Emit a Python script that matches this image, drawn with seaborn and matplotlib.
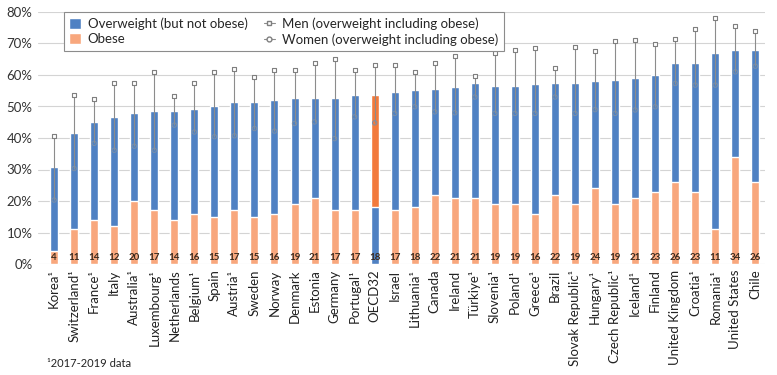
# Overweight and obesity by country, stacked bars with men/women markers
import numpy as np
import pandas as pd
import seaborn as sns
import matplotlib.pyplot as plt
from matplotlib.patches import Patch
from matplotlib.lines import Line2D

# Data (percent of adult population)
countries = ["Korea¹", "Switzerland¹", "France¹", "Italy", "Australia¹", "Luxembourg¹",
             "Netherlands", "Belgium¹", "Spain", "Austria¹", "Sweden", "Norway", "Denmark",
             "Estonia", "Germany", "Portugal¹", "OECD32", "Israel", "Lithuania¹", "Canada",
             "Ireland", "Türkiye¹", "Slovenia¹", "Poland¹", "Greece¹", "Brazil",
             "Slovak Republic¹", "Hungary¹", "Czech Republic¹", "Iceland¹", "Finland",
             "United Kingdom", "Croatia¹", "Romania¹", "United States", "Chile"]
obese = [4, 11, 14, 12, 20, 17, 14, 16, 15, 17, 15, 16, 19, 21, 17, 17, 18, 17, 18, 22,
         21, 21, 19, 19, 16, 22, 19, 24, 19, 21, 23, 26, 23, 11, 34, 26]
total = [30.7, 41.7, 45.0, 46.7, 48.0, 48.6, 48.6, 49.1, 50.0, 51.3, 51.3, 52.1, 52.6,
         52.6, 52.6, 53.6, 53.6, 54.5, 55.3, 55.5, 56.3, 57.6, 56.6, 56.6, 57.1, 57.6,
         57.6, 58.1, 58.4, 58.9, 60.0, 63.7, 63.7, 66.9, 67.9, 67.9]
men = [40.6, 53.5, 52.5, 57.6, 57.6, 60.8, 53.2, 57.6, 60.8, 62.0, 59.4, 61.6, 61.6,
       63.9, 65.2, 61.6, 63.2, 63.2, 60.8, 63.7, 65.9, 59.6, 67.1, 67.8, 68.7, 62.3,
       69.0, 67.7, 70.9, 71.2, 69.9, 71.3, 74.6, 78.0, 75.6, 73.9]
women = [20.3, 30.3, 38.3, 36.1, 37.4, 36.1, 44.1, 41.9, 40.4, 40.7, 43.0, 42.2, 44.6,
         45.1, 39.8, 46.7, 44.8, 47.8, 49.9, 48.3, 48.0, 53.0, 47.8, 47.8, 47.8, 53.0,
         47.8, 49.0, 47.8, 48.9, 49.9, 57.3, 56.8, 56.8, 61.0, 62.8]

# Colours (OECD average highlighted with swapped colours)
BLUE = "#4F81C3"
ORANGE = "#F8A77D"
OECD_ORANGE = "#F27A3C"
ow_colors = [OECD_ORANGE if c == "OECD32" else BLUE for c in countries]
ob_colors = [BLUE if c == "OECD32" else ORANGE for c in countries]

df = pd.DataFrame({"country": countries, "total": total, "obese": obese,
                   "men": men, "women": women})

sns.set_style("white")
plt.rcParams["font.family"] = ["Lato", "DejaVu Sans"]

fig = plt.figure(figsize=(7.77, 3.75), dpi=100)
ax = fig.add_axes([0.049, 0.296, 0.936, 0.672])

# Stacked bars: total first, obese part on top of it
sns.barplot(data=df, x="country", y="total", hue="country", palette=ow_colors,
            width=0.4, saturation=1, legend=False, ax=ax, zorder=2)
sns.barplot(data=df, x="country", y="obese", hue="country", palette=ob_colors,
            width=0.4, saturation=1, legend=False, ax=ax, zorder=2)

# Men / women markers joined with a thin line
pos = np.arange(len(df))
ax.vlines(pos, df["women"], df["men"], color="#8c8c8c", lw=0.8, zorder=3)
ax.scatter(pos, df["men"], marker="s", s=12, facecolor="white", edgecolor="#7f7f7f",
           linewidth=0.8, zorder=4)
ax.scatter(pos, df["women"], marker="o", s=10, facecolor="none", edgecolor="#7a8fa8",
           linewidth=0.7, zorder=4)

# Obese values at the bottom of each bar
for x, v in zip(pos, df["obese"]):
    ax.text(x, 0.6, str(v), ha="center", va="bottom", fontsize=7, fontweight="bold",
            color="#3b2a1e", zorder=5)

# Axes formatting
ax.set_xlim(-0.8, len(df) - 0.5)
ax.set_ylim(0, 80)
ax.set_yticks(range(0, 81, 10))
ax.set_yticklabels([f"{v}%" for v in range(0, 81, 10)], fontsize=9.5, color="#333333")
ax.set_xticks(pos)
ax.set_xticklabels(countries, rotation=90, fontsize=9.5, color="#222222")
ax.set_xlabel("")
ax.set_ylabel("")
ax.tick_params(axis="both", length=0, pad=4)
ax.grid(axis="y", color="#d4d4d4", lw=0.8, zorder=0)
ax.set_axisbelow(True)
for s in ax.spines.values():
    s.set_visible(False)

# Legend
handles = [Patch(facecolor=BLUE), Patch(facecolor=ORANGE),
           Line2D([0], [0], color="#8c8c8c", lw=0.8, marker="s", markersize=3.5,
                  markerfacecolor="white", markeredgecolor="#7f7f7f"),
           Line2D([0], [0], color="#8c8c8c", lw=0.8, marker="o", markersize=3.5,
                  markerfacecolor="white", markeredgecolor="#7f7f7f")]
labels = ["Overweight (but not obese)", "Obese",
          "Men (overweight including obese)", "Women (overweight including obese)"]
leg = fig.legend(handles, labels, ncol=2, loc="upper left",
                 bbox_to_anchor=(0.074, 0.985), fontsize=9.5, frameon=True,
                 fancybox=False, framealpha=1, edgecolor="#8c8c8c",
                 handlelength=0.9, handleheight=0.9, handletextpad=0.5,
                 columnspacing=1.2, labelspacing=0.25, borderpad=0.4)
leg.get_frame().set_linewidth(0.8)

# Footnote
fig.text(0.06, 0.022, "¹2017-2019 data", fontsize=8, color="#222222")

plt.savefig("out.png", dpi=100)
